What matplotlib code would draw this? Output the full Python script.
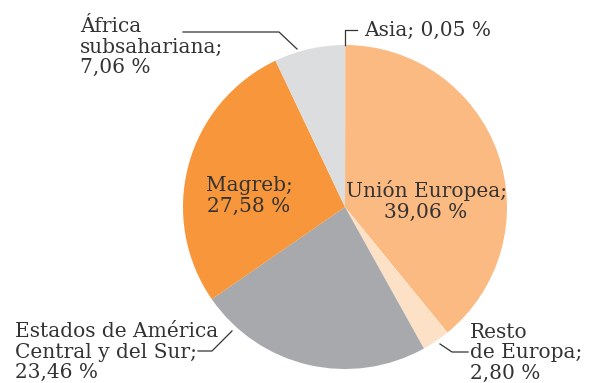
import matplotlib
matplotlib.use("Agg")
import matplotlib.pyplot as plt

# shares by region of origin, clockwise from the top
regions = ["Asia", "Unión Europea", "Resto de Europa",
           "Estados de América Central y del Sur", "Magreb", "África subsahariana"]
shares = [0.05, 39.06, 2.80, 23.46, 27.58, 7.06]
colors = ["#F4A46A", "#FBBA82", "#FDE1C6", "#A7A9AC", "#F7963A", "#DCDDDE"]

W, H = 592, 383
fig = plt.figure(figsize=(W / 100, H / 100), dpi=100)
ax = fig.add_axes([0, 0, 1, 1])

cx, cy, r = 345, 207, 162
# axes run y-down, so a counter-clockwise pie from -90 reads clockwise from the top
ax.pie(shares, colors=colors, startangle=-90, counterclock=True,
       center=(cx, cy), radius=r, frame=True,
       wedgeprops=dict(linewidth=0))
ax.set_xlim(0, W)
ax.set_ylim(H, 0)
ax.set_aspect("equal")
ax.axis("off")

def pct(v):
    return f"{v:.2f}".replace(".", ",") + " %"

txt = dict(family="DejaVu Serif", fontsize=14.5, color="#333333", linespacing=1.1)
line = dict(color="#333333", lw=0.9)

# labels inside the big slices
ax.text(249, 196, f"Magreb;\n{pct(shares[4])}", ha="center", va="center", **txt)
ax.text(426, 201, f"Unión Europea;\n{pct(shares[1])}", ha="center", va="center", **txt)

# outside labels with leader lines
ax.text(80, 47, f"África\nsubsahariana;\n{pct(shares[5])}", ha="left", va="center", **txt)
ax.plot([183, 279, 297], [32, 32, 49], **line)

ax.text(364, 30, f"Asia; {pct(shares[0])}", ha="left", va="center", **txt)
ax.plot([345, 345, 357], [45, 30, 30], **line)

ax.text(15, 352, "Estados de América\nCentral y del Sur;\n" + pct(shares[3]),
        ha="left", va="center", **txt)
ax.plot([198, 212, 232], [351, 351, 331], **line)

ax.text(470, 353, f"Resto\nde Europa;\n{pct(shares[2])}", ha="left", va="center", **txt)
ax.plot([440, 452, 468], [344, 352, 352], **line)

fig.savefig("out.png", dpi=100)
